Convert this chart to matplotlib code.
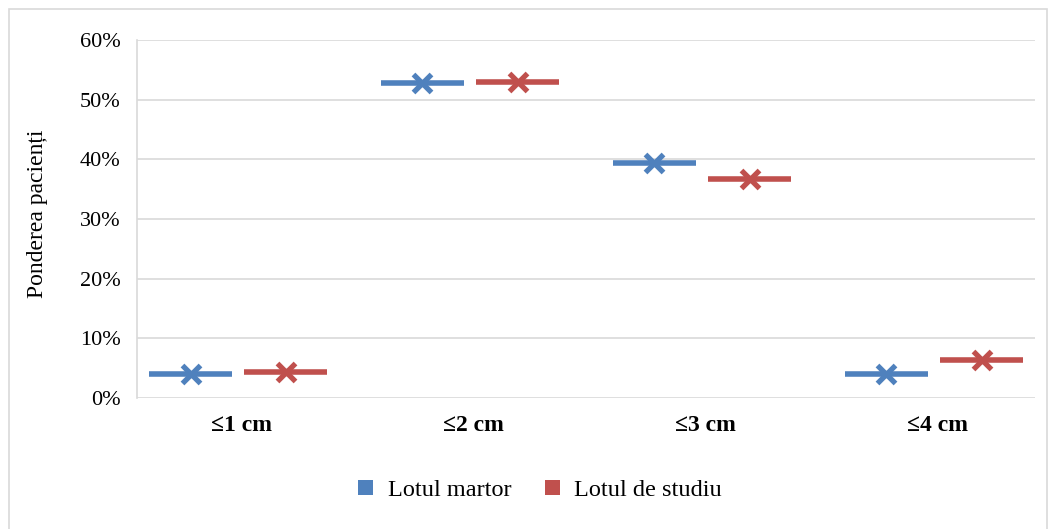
import numpy as np
import matplotlib.pyplot as plt
from matplotlib.patches import Rectangle, Patch

categories = ['≤1 cm', '≤2 cm', '≤3 cm', '≤4 cm']
martor = [4.0, 52.7, 39.3, 4.0]
studiu = [4.3, 53.0, 36.7, 6.3]
series_names = ['Lotul martor', 'Lotul de studiu']

BLUE = '#4F81BD'
RED = '#C0504D'

plt.rcParams['font.family'] = ['Liberation Serif', 'DejaVu Serif']

fig = plt.figure(figsize=(10.55, 5.29), dpi=100)
ax = fig.add_axes([0.130, 0.2476, 0.851, 0.677])

x = np.arange(len(categories))
half = 0.18
offsets = [-0.22, 0.19]

for vals, off, col in zip([martor, studiu], offsets, [BLUE, RED]):
    xs = x + off
    ax.hlines(vals, xs - half, xs + half, colors=col, linewidth=4, zorder=3)
    ax.plot(xs, vals, linestyle='none', marker='x', markersize=13,
            markeredgewidth=3.8, color=col, zorder=4)

ax.set_xlim(-0.45, 3.42)
ax.set_ylim(0, 60)
ax.set_yticks(np.arange(0, 61, 10))
ax.set_yticklabels([f'{v}%' for v in range(0, 61, 10)], fontsize=16)
ax.set_xticks(x)
ax.set_xticklabels(categories, fontsize=17, fontweight='bold')
ax.tick_params(axis='y', length=0, pad=12)
ax.tick_params(axis='x', length=0, pad=12)

ax.grid(axis='y', color='#d9d9d9', linewidth=1.2, zorder=0)
for s in ['top', 'right', 'bottom']:
    ax.spines[s].set_visible(False)
ax.spines['left'].set_color('#d9d9d9')
ax.spines['left'].set_linewidth(1.2)

fig.text(0.036, 0.595, 'Ponderea pacienți', rotation=90, fontsize=17,
         ha='center', va='center')

handles = [Patch(facecolor=BLUE), Patch(facecolor=RED)]
fig.legend(handles, series_names, loc='center', bbox_to_anchor=(0.512, 0.073),
           ncol=2, frameon=False, fontsize=17.5, handlelength=0.6,
           handleheight=0.6, handletextpad=0.6, columnspacing=1.4)

fig.patches.append(Rectangle((9 / 1055, -0.01), 1038 / 1055, 1 - 9 / 529 + 0.01,
                             transform=fig.transFigure, fill=False,
                             edgecolor='#d9d9d9', linewidth=1.2))

fig.savefig('out.png', dpi=100)
